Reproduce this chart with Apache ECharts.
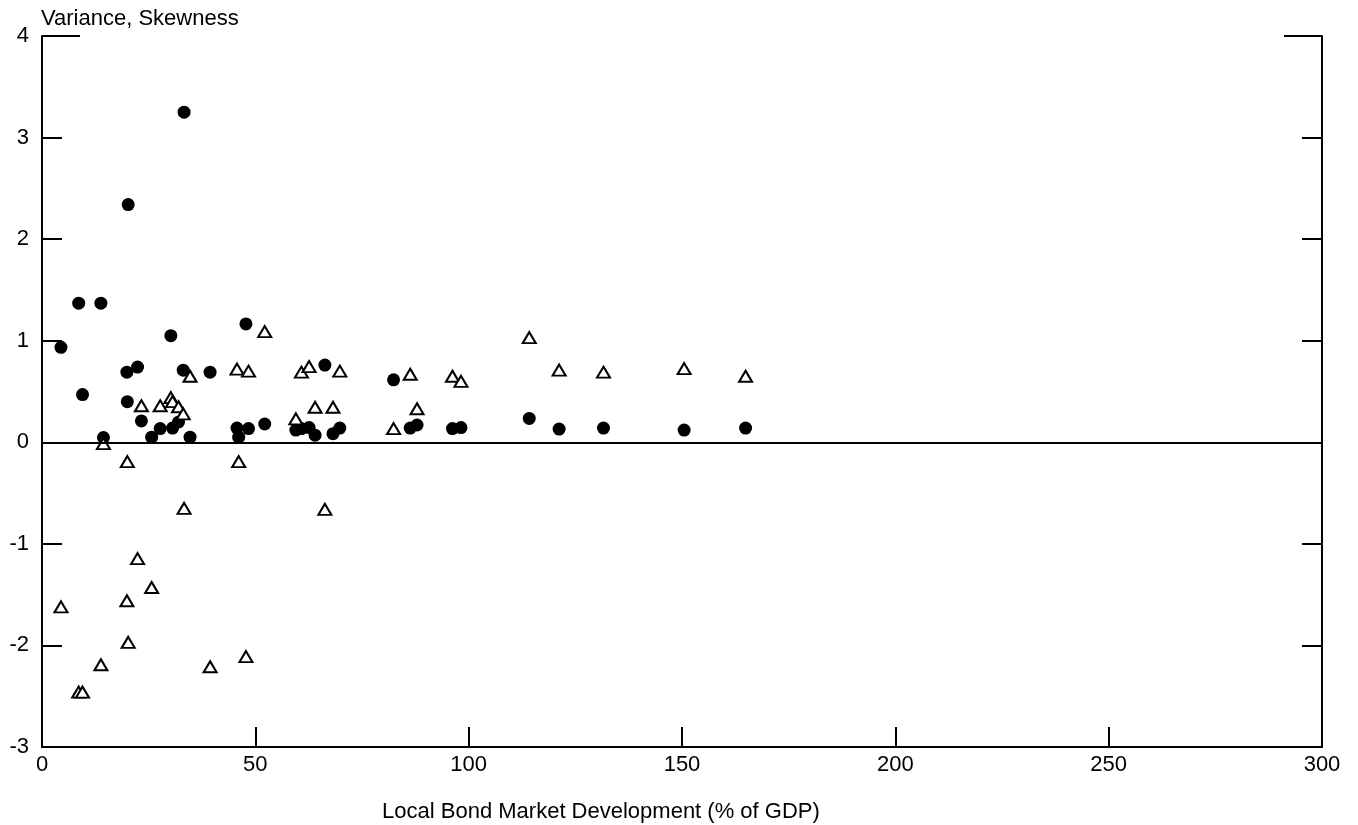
<!DOCTYPE html>
<html>
<head>
<meta charset="utf-8">
<script src="https://cdn.jsdelivr.net/npm/echarts@6/dist/echarts.min.js"></script>
<style>
html,body{margin:0;padding:0;background:#fff;}
#chart{width:1358px;height:825px;}
</style>
</head>
<body>
<div id="chart"></div>
<script>
// Local bond market development (% of GDP), one entry per country
var bondMarket = [4.45, 8.6, 9.5, 13.8, 14.4, 19.9, 20.0, 20.2, 22.4, 23.3,
  25.7, 27.7, 30.2, 30.6, 32.0, 33.1, 33.3, 34.7, 39.4, 45.7,
  46.1, 47.8, 48.4, 52.2, 59.5, 60.8, 62.6, 64.0, 66.3, 68.2,
  69.8, 82.4, 86.3, 87.9, 96.2, 98.2, 114.2, 121.2, 131.6, 150.5, 164.9];
// Variance (filled circles)
var variance = [0.935, 1.37, 0.47, 1.37, 0.046, 0.69, 0.40, 2.34, 0.74, 0.21,
  0.05, 0.135, 1.05, 0.14, 0.20, 0.71, 3.25, 0.05, 0.69, 0.14,
  0.05, 1.165, 0.135, 0.18, 0.12, 0.135, 0.145, 0.07, 0.76, 0.085,
  0.14, 0.615, 0.14, 0.17, 0.135, 0.145, 0.235, 0.13, 0.14, 0.12, 0.14];
// Skewness (open triangles)
var skewness = [-1.62, -2.46, -2.46, -2.19, -0.013, -1.56, -0.19, -1.97, -1.145, 0.36,
  -1.43, 0.36, 0.44, 0.40, 0.35, 0.28, -0.65, 0.65, -2.21, 0.72,
  -0.19, -2.11, 0.70, 1.09, 0.23, 0.69, 0.745, 0.345, -0.66, 0.345,
  0.70, 0.135, 0.67, 0.33, 0.65, 0.60, 1.03, 0.71, 0.69, 0.725, 0.65];
var xTicks = [0, 50, 100, 150, 200, 250, 300];
var yTicks = [-3, -2, -1, 0, 1, 2, 3, 4];
var yTitle = 'Variance, Skewness';
var xTitle = 'Local Bond Market Development (% of GDP)';

function pairs(xs, ys){ return xs.map(function(x,i){ return [x, ys[i]]; }); }

var FONT = '"Liberation Sans", Arial, sans-serif';
var FS = 22;
var chart = echarts.init(document.getElementById('chart'), null, {renderer:'canvas'});
var axisLine = {show:true, onZero:false, lineStyle:{color:'#000', width:2}};
var tick = {show:true, inside:true, length:20, lineStyle:{color:'#000', width:2}};
chart.setOption({
  animation:false,
  backgroundColor:'#fff',
  grid:{left:42, right:36, top:36, bottom:78, containLabel:false},
  xAxis:{type:'value', min:xTicks[0], max:xTicks[xTicks.length-1], interval:50,
    axisLine:axisLine, axisTick:tick, splitLine:{show:false},
    axisLabel:{color:'#000', fontSize:FS, fontFamily:FONT, margin:7}},
  yAxis:[
    {type:'value', min:yTicks[0], max:yTicks[yTicks.length-1], interval:1, position:'left',
      axisLine:axisLine, axisTick:tick, splitLine:{show:false},
      axisLabel:{color:'#000', fontSize:FS, fontFamily:FONT, margin:13}},
    {type:'value', min:yTicks[0], max:yTicks[yTicks.length-1], interval:1, position:'right',
      axisLine:axisLine, axisTick:tick, splitLine:{show:false},
      axisLabel:{show:false}}
  ],
  series:[
    {type:'scatter', name:'Variance', data:pairs(bondMarket, variance),
      symbol:'circle', symbolSize:13, itemStyle:{color:'#000', opacity:1},
      markLine:{silent:true, symbol:['none','none'], label:{show:false},
        lineStyle:{color:'#000', width:2, type:'solid'}, data:[{yAxis:0}]},
      z:2},
    {type:'scatter', name:'Skewness', data:pairs(bondMarket, skewness),
      symbol:'triangle', symbolSize:[13,11],
      itemStyle:{color:'#fff', borderColor:'#000', borderWidth:2, opacity:1},
      z:3}
  ]
});

var pTL = chart.convertToPixel({gridIndex:0}, [xTicks[0], yTicks[yTicks.length-1]]);
var pTR = chart.convertToPixel({gridIndex:0}, [xTicks[xTicks.length-1], yTicks[yTicks.length-1]]);
var pBL = chart.convertToPixel({gridIndex:0}, [xTicks[0], yTicks[0]]);
var midX = chart.convertToPixel({gridIndex:0}, [131, 0])[0];
chart.setOption({
  graphic:[
    {type:'line', shape:{x1:pTL[0], y1:pTL[1], x2:pTL[0]+38, y2:pTL[1]}, style:{stroke:'#000', lineWidth:2}},
    {type:'line', shape:{x1:pTR[0]-38, y1:pTR[1], x2:pTR[0], y2:pTR[1]}, style:{stroke:'#000', lineWidth:2}},
    {type:'text', x:pTL[0]-1, y:pTL[1]-17, style:{text:yTitle, fill:'#000', font:FS + 'px ' + FONT, textVerticalAlign:'middle'}},
    {type:'text', x:midX, y:pBL[1]+65, style:{text:xTitle, fill:'#000', font:FS + 'px ' + FONT, textAlign:'center', textVerticalAlign:'middle'}}
  ]
});
</script>
</body>
</html>
